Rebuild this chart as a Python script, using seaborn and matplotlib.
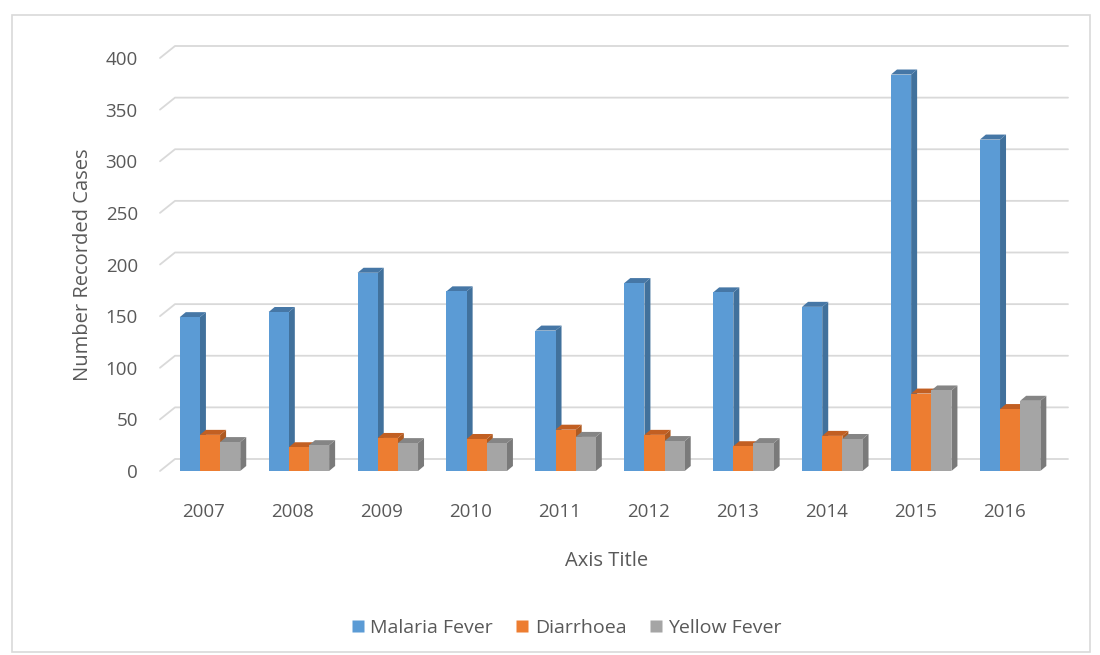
import matplotlib
matplotlib.use("Agg")
import matplotlib.pyplot as plt
from matplotlib.patches import Polygon, Rectangle
from matplotlib.lines import Line2D
from matplotlib.transforms import ScaledTranslation
import seaborn as sns
import pandas as pd

# Recorded cases per year
years = ["2007", "2008", "2009", "2010", "2011", "2012", "2013", "2014", "2015", "2016"]
malaria = [149, 154, 192, 174, 136, 182, 173, 159, 384, 321]
diarrhoea = [35, 23, 32, 31, 40, 35, 24, 34, 75, 60]
yellow = [28, 25, 27, 27, 33, 29, 27, 31, 78, 68]
series = ["Malaria Fever", "Diarrhoea", "Yellow Fever"]
y_ticks = [0, 50, 100, 150, 200, 250, 300, 350, 400]

front = ["#5b9bd5", "#ed7d31", "#a5a5a5"]
side = ["#41719c", "#ae5a21", "#7a7a7a"]
top = ["#4677a6", "#c25f22", "#858585"]

df = pd.DataFrame({
    "Year": years * 3,
    "Series": [s for s in series for _ in years],
    "Cases": malaria + diarrhoea + yellow,
})

sns.set_theme(style="white")
plt.rcParams["font.family"] = ["Open Sans", "DejaVu Sans"]
text_col = "#595959"

W, H = 1100, 655
fig = plt.figure(figsize=(W / 100, H / 100), dpi=100)

# plot area in pixels (front plane)
px_left, px_right, px_bottom, px_top = 160, 1053, 471, 58
ax = fig.add_axes([px_left / W, (H - px_bottom) / H,
                   (px_right - px_left) / W, (px_bottom - px_top) / H])

sns.barplot(data=df, x="Year", y="Cases", hue="Series", order=years,
            hue_order=series, palette=front, width=0.68, gap=0,
            saturation=1, ax=ax, legend=False, linewidth=0)

x0 = (px_left - 210) / 88.9
x1 = (px_right - 210) / 88.9
ax.set_xlim(x0, x1)
ax.set_ylim(0, 400)

# pixel -> data unit conversion
sx = (x1 - x0) / (px_right - px_left)
sy = 400 / (px_bottom - px_top)

# wall gridlines: short side-wall diagonal then across the back wall
wdx, wdy = 15 * sx, 12 * sy
for v in y_ticks:
    ax.add_line(Line2D([x0, x0 + wdx, x1 + wdx], [v, v + wdy, v + wdy],
                       color="#d9d9d9", lw=1.3, zorder=0.5, clip_on=False))

# give each bar a side and a top face
bdx, bdy = 6 * sx, 5 * sy
bars = [p for p in ax.patches if isinstance(p, Rectangle)]
n = len(years)
for i, p in enumerate(bars):
    h_idx = i // n
    x, w, h = p.get_x(), p.get_width(), p.get_height()
    z = 2 + h_idx * 0.1
    p.set_zorder(z + 0.05)
    p.set_edgecolor("none")
    ax.add_patch(Polygon([(x + w, 0), (x + w + bdx, bdy), (x + w + bdx, h + bdy), (x + w, h)],
                         closed=True, facecolor=side[h_idx], edgecolor="none", zorder=z))
    ax.add_patch(Polygon([(x, h), (x + bdx, h + bdy), (x + w + bdx, h + bdy), (x + w, h)],
                         closed=True, facecolor=top[h_idx], edgecolor="none", zorder=z))

for s in ax.spines.values():
    s.set_visible(False)
ax.set_yticks(y_ticks)
ax.set_yticklabels([str(v) for v in y_ticks])
ax.tick_params(axis="y", length=0, pad=16, labelsize=13.5, labelcolor=text_col)
ax.tick_params(axis="x", length=0, pad=23, labelsize=13.5, labelcolor=text_col)
ax.grid(False)
shift = ScaledTranslation(-6 / 100, 0, fig.dpi_scale_trans)
for lab in ax.get_xticklabels():
    lab.set_transform(lab.get_transform() + shift)

ax.set_xlabel("Axis Title", fontsize=14.5, color=text_col, labelpad=22)
ax.set_ylabel("Number Recorded Cases", fontsize=14.5, color=text_col, labelpad=9)

handles = [Line2D([], [], marker="s", linestyle="none", markersize=8,
                  markerfacecolor=c, markeredgecolor="none") for c in front]
fig.legend(handles, series, loc="center", bbox_to_anchor=(567 / W, (H - 628) / H),
           ncol=3, frameon=False, fontsize=14, labelcolor=text_col,
           handlelength=0.6, handletextpad=0.35, columnspacing=1.2)

# chart border
fig.add_artist(Rectangle((12 / W, (H - 652) / H), (1090 - 12) / W, (652 - 15) / H,
                         transform=fig.transFigure, fill=False,
                         edgecolor="#d9d9d9", lw=1.2))

fig.savefig("out.png", dpi=100)
